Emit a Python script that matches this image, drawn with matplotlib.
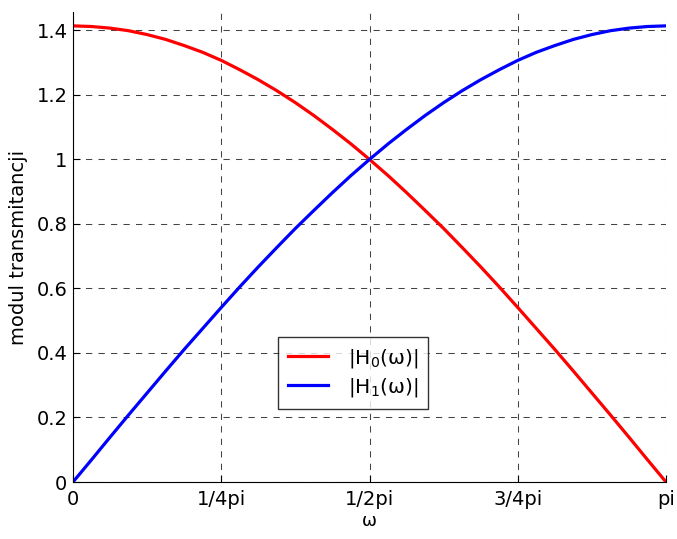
import numpy as np
import matplotlib.pyplot as plt

omega = np.arange(33) * np.pi / 32
h0 = [1.414, 1.412, 1.407, 1.399, 1.387, 1.372, 1.353, 1.332, 1.307, 1.278,
      1.247, 1.213, 1.176, 1.136, 1.093, 1.048, 1.000, 0.950, 0.897, 0.842,
      0.786, 0.727, 0.667, 0.605, 0.541, 0.476, 0.411, 0.344, 0.276, 0.208,
      0.139, 0.069, 0.0]
h1 = h0[::-1]

xticks = [0, np.pi / 4, np.pi / 2, 3 * np.pi / 4, np.pi]
xticklabels = ['0', '1/4pi', '1/2pi', '3/4pi', 'pi']
yticks = [0, 0.2, 0.4, 0.6, 0.8, 1.0, 1.2, 1.4]
yticklabels = ['0', '0.2', '0.4', '0.6', '0.8', '1', '1.2', '1.4']

plt.rcParams['font.family'] = ['DejaVu Sans']
fig = plt.figure(figsize=(6.77, 5.39), dpi=100)
ax = fig.add_axes([73 / 677, 1 - 482 / 539, 593 / 677, 470 / 539])

ax.plot(omega, h0, color='red', lw=2.3, label='|H$_0$(ω)|')
ax.plot(omega, h1, color='blue', lw=2.3, label='|H$_1$(ω)|')

ax.set_xlim(0, np.pi)
ax.set_ylim(0, 1.457)
ax.set_xticks(xticks)
ax.set_xticklabels(xticklabels)
ax.set_yticks(yticks)
ax.set_yticklabels(yticklabels)
ax.tick_params(direction='in', labelsize=14, length=5, width=0.8)
ax.tick_params(axis='x', pad=6)
ax.tick_params(axis='y', pad=4)
ax.grid(True, color='#444444', linestyle=(0, (6, 6)), lw=0.75)
ax.spines['top'].set_visible(False)
ax.spines['right'].set_visible(False)

ax.set_xlabel('ω', fontsize=13, labelpad=2)
ax.set_ylabel('modul transmitancji', fontsize=14, labelpad=6)

leg = ax.legend(loc='center', bbox_to_anchor=((353 - 73) / 593, 1 - (373 - 12) / 470),
                fontsize=14.5, frameon=True, fancybox=False, edgecolor='black',
                handlelength=2.0, handletextpad=1.0, borderpad=0.5,
                labelspacing=0.3, borderaxespad=0)
leg.get_frame().set_linewidth(1.0)

fig.savefig('out.png', dpi=100)
